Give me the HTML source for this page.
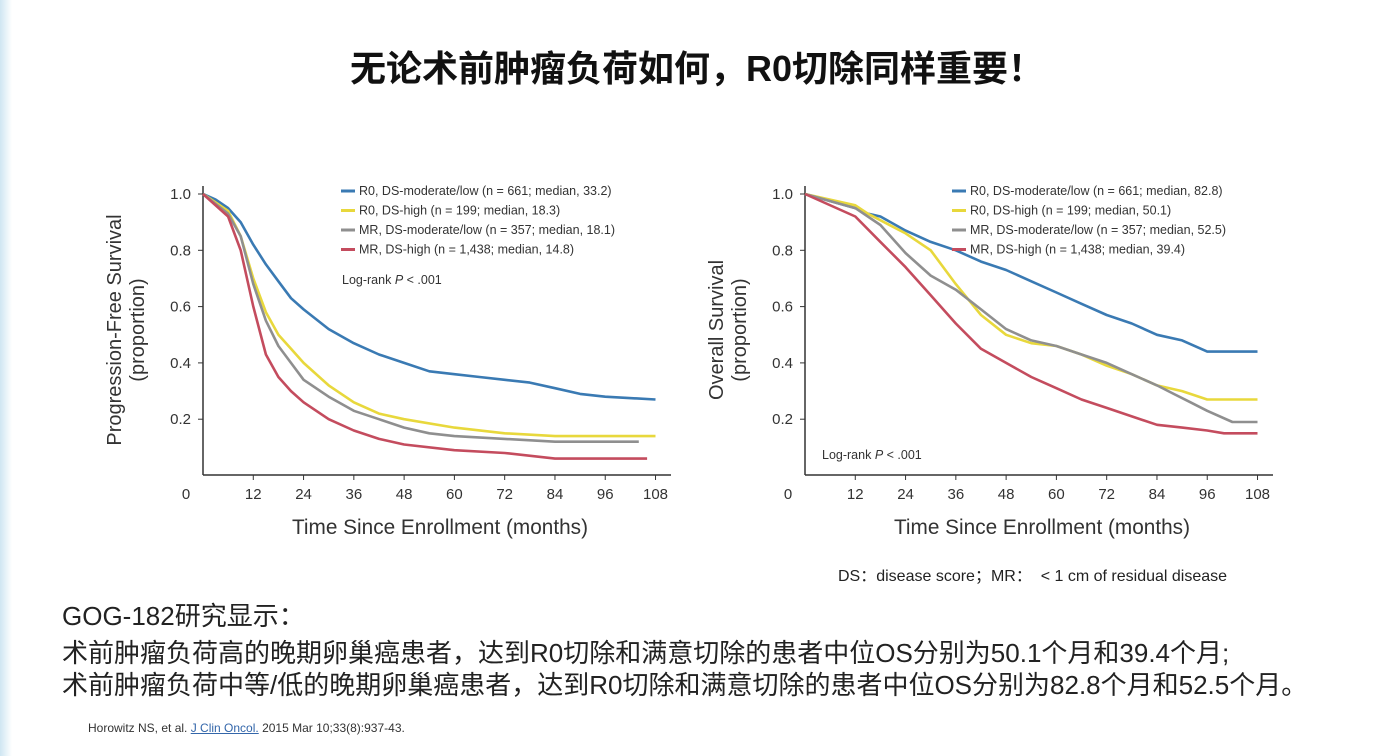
<!DOCTYPE html>
<html><head><meta charset="utf-8"><style>
body{margin:0;width:1395px;height:756px;background:#fff;position:relative;overflow:hidden;font-family:"Liberation Sans","Noto Sans CJK SC",sans-serif;}
.edge{position:absolute;left:0;top:0;width:12px;height:756px;background:linear-gradient(90deg,#cfe6f2,#fff);}
.t{position:absolute;white-space:nowrap;}
</style></head><body>
<div class="edge"></div>
<div class="t" style="left:350px;top:40px;font-size:36px;font-weight:bold;color:#111;">无论术前肿瘤负荷如何，R0切除同样重要！</div>
<svg id="s" width="1395" height="756" style="position:absolute;left:0;top:0" font-family="Liberation Sans, sans-serif"></svg>
<div class="t" style="left:838px;top:562px;font-size:16px;color:#222;">DS：disease score；MR：&nbsp;&nbsp;&lt; 1 cm of residual disease</div>
<div class="t" style="left:62px;top:596px;font-size:26px;color:#222;">GOG-182研究显示：</div>
<div class="t" style="left:62px;top:633px;font-size:26px;color:#222;">术前肿瘤负荷高的晚期卵巢癌患者，达到R0切除和满意切除的患者中位OS分别为50.1个月和39.4个月;</div>
<div class="t" style="left:62px;top:665px;font-size:26px;color:#222;">术前肿瘤负荷中等/低的晚期卵巢癌患者，达到R0切除和满意切除的患者中位OS分别为82.8个月和52.5个月。</div>
<div class="t" style="left:88px;top:721px;font-size:12px;color:#333;">Horowitz NS, et al. <span style="color:#3366aa;text-decoration:underline">J Clin Oncol.</span> 2015 Mar 10;33(8):937-43.</div>
<script>
var s=document.getElementById('s'),h='';
var C=['#3a7ab3','#e8d83c','#8f8f8f','#c44c5e'];
function chart(x0,data,leg,legX,logX,logY,ylab){
 var px=function(m){return x0+m*4.19},py=function(v){return 475.5-v*281.5};
 h+='<line x1="'+x0+'" y1="186" x2="'+x0+'" y2="475" stroke="#333" stroke-width="1.5"/>';
 h+='<line x1="'+x0+'" y1="475" x2="'+(x0+468)+'" y2="475" stroke="#333" stroke-width="1.5"/>';
 [1,.8,.6,.4,.2].forEach(function(v){h+='<line x1="'+(x0-5)+'" y1="'+py(v)+'" x2="'+x0+'" y2="'+py(v)+'" stroke="#333"/><text x="'+(x0-12)+'" y="'+(py(v)+5)+'" font-size="15" text-anchor="end" fill="#333">'+v.toFixed(1)+'</text>';});
 for(var m=0;m<=108;m+=12){if(m>0)h+='<line x1="'+px(m)+'" y1="475" x2="'+px(m)+'" y2="480" stroke="#333"/>';h+='<text x="'+(m==0?x0-17:px(m))+'" y="499" font-size="15" text-anchor="middle" fill="#333">'+m+'</text>';}
 h+='<text x="'+(x0+237)+'" y="534" font-size="21" text-anchor="middle" fill="#333" textLength="296" lengthAdjust="spacingAndGlyphs">Time Since Enrollment (months)</text>';
 h+='<text transform="translate('+(x0-82)+',330) rotate(-90)" font-size="20" text-anchor="middle" fill="#333">'+ylab+'</text>';
 h+='<text transform="translate('+(x0-59)+',330) rotate(-90)" font-size="20" text-anchor="middle" fill="#333">(proportion)</text>';
 data.forEach(function(d,i){var p='';for(var k=0;k<d.length;k+=2){p+=(k?'L':'M')+px(d[k]).toFixed(1)+' '+py(d[k+1]).toFixed(1);}
  h+='<path d="'+p+'" fill="none" stroke="'+C[i]+'" stroke-width="2.6" stroke-linejoin="round"/>';});
 leg.forEach(function(t,i){var y=195+i*19.5;h+='<line x1="'+legX+'" y1="'+(y-4)+'" x2="'+(legX+14)+'" y2="'+(y-4)+'" stroke="'+C[i]+'" stroke-width="3"/><text x="'+(legX+18)+'" y="'+y+'" font-size="12.5" fill="#333">'+t+'</text>';});
 h+='<text x="'+logX+'" y="'+logY+'" font-size="12.5" fill="#333">Log-rank <tspan font-style="italic">P</tspan> &lt; .001</text>';
}
chart(203,[
[0,1,3,.98,6,.95,9,.9,12,.82,15,.75,18,.69,21,.63,24,.59,30,.52,36,.47,42,.43,48,.4,54,.37,60,.36,66,.35,72,.34,78,.33,84,.31,90,.29,96,.28,108,.27],
[0,1,6,.94,9,.85,12,.7,15,.58,18,.5,21,.45,24,.4,30,.32,36,.26,42,.22,48,.2,60,.17,72,.15,84,.14,108,.14],
[0,1,6,.93,9,.85,12,.68,15,.55,18,.46,21,.4,24,.34,30,.28,36,.23,42,.2,48,.17,54,.15,60,.14,72,.13,84,.12,104,.12],
[0,1,6,.92,9,.8,12,.6,15,.43,18,.35,21,.3,24,.26,30,.2,36,.16,42,.13,48,.11,60,.09,72,.08,84,.06,106,.06]],
['R0, DS-moderate/low (n = 661; median, 33.2)','R0, DS-high (n = 199; median, 18.3)','MR, DS-moderate/low (n = 357; median, 18.1)','MR, DS-high (n = 1,438; median, 14.8)'],
341,342,284,'Progression-Free Survival');
chart(805,[
[0,1,12,.95,15,.93,18,.92,24,.87,30,.83,36,.8,42,.76,48,.73,54,.69,60,.65,66,.61,72,.57,78,.54,84,.5,90,.48,96,.44,108,.44],
[0,1,12,.96,15,.93,24,.86,30,.8,36,.68,42,.57,48,.5,54,.47,60,.46,66,.43,72,.39,78,.36,84,.32,90,.3,96,.27,108,.27],
[0,1,12,.95,18,.89,24,.79,30,.71,36,.66,42,.59,48,.52,54,.48,60,.46,66,.43,72,.4,78,.36,84,.32,88,.29,92,.26,96,.23,102,.19,108,.19],
[0,1,12,.92,18,.83,24,.74,30,.64,36,.54,42,.45,48,.4,54,.35,60,.31,66,.27,72,.24,78,.21,84,.18,90,.17,96,.16,100,.15,108,.15]],
['R0, DS-moderate/low (n = 661; median, 82.8)','R0, DS-high (n = 199; median, 50.1)','MR, DS-moderate/low (n = 357; median, 52.5)','MR, DS-high (n = 1,438; median, 39.4)'],
952,822,459,'Overall Survival');
s.innerHTML=h;
</script>
</body></html>
